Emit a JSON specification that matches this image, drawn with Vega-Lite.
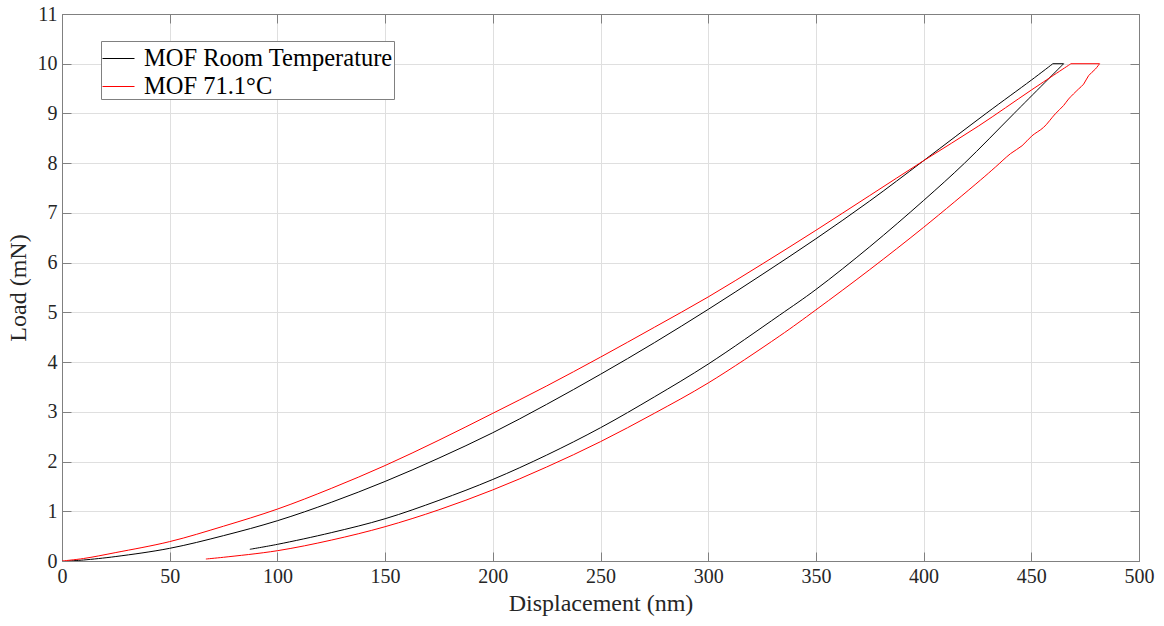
{
  "$schema": "https://vega.github.io/schema/vega-lite/v6.json",
  "autosize": "none",
  "width": 1077,
  "height": 547,
  "padding": {"left": 62, "top": 14, "right": 25, "bottom": 65},
  "background": "white",
  "config": {
    "view": {"stroke": "#808080", "strokeWidth": 1},
    "font": "Liberation Serif",
    "axis": {
      "labelFont": "Liberation Serif",
      "titleFont": "Liberation Serif",
      "labelFontSize": 20,
      "titleFontSize": 24,
      "titleFontWeight": "normal",
      "labelColor": "#262626",
      "titleColor": "#262626",
      "domainColor": "#808080",
      "tickColor": "#808080",
      "gridColor": "#dfdfdf",
      "tickSize": -9,
      "labelFlush": false
    }
  },
  "data": {
    "values": [
      {"s": "MOF Room Temperature", "g": "load", "i": 1, "x": 3, "y": 0},
      {"s": "MOF Room Temperature", "g": "load", "i": 2, "x": 10, "y": 0.02},
      {"s": "MOF Room Temperature", "g": "load", "i": 3, "x": 25, "y": 0.09},
      {"s": "MOF Room Temperature", "g": "load", "i": 4, "x": 50, "y": 0.255},
      {"s": "MOF Room Temperature", "g": "load", "i": 5, "x": 75, "y": 0.51},
      {"s": "MOF Room Temperature", "g": "load", "i": 6, "x": 100, "y": 0.81},
      {"s": "MOF Room Temperature", "g": "load", "i": 7, "x": 125, "y": 1.18},
      {"s": "MOF Room Temperature", "g": "load", "i": 8, "x": 150, "y": 1.6},
      {"s": "MOF Room Temperature", "g": "load", "i": 9, "x": 175, "y": 2.07},
      {"s": "MOF Room Temperature", "g": "load", "i": 10, "x": 200, "y": 2.58},
      {"s": "MOF Room Temperature", "g": "load", "i": 11, "x": 225, "y": 3.15},
      {"s": "MOF Room Temperature", "g": "load", "i": 12, "x": 250, "y": 3.755},
      {"s": "MOF Room Temperature", "g": "load", "i": 13, "x": 275, "y": 4.39},
      {"s": "MOF Room Temperature", "g": "load", "i": 14, "x": 300, "y": 5.06},
      {"s": "MOF Room Temperature", "g": "load", "i": 15, "x": 325, "y": 5.76},
      {"s": "MOF Room Temperature", "g": "load", "i": 16, "x": 350, "y": 6.48},
      {"s": "MOF Room Temperature", "g": "load", "i": 17, "x": 375, "y": 7.24},
      {"s": "MOF Room Temperature", "g": "load", "i": 18, "x": 400, "y": 8.05},
      {"s": "MOF Room Temperature", "g": "load", "i": 19, "x": 429, "y": 9.0},
      {"s": "MOF Room Temperature", "g": "load", "i": 20, "x": 450, "y": 9.67},
      {"s": "MOF Room Temperature", "g": "load", "i": 21, "x": 460, "y": 10},
      {"s": "MOF Room Temperature", "g": "top", "i": 22, "x": 460, "y": 10},
      {"s": "MOF Room Temperature", "g": "top", "i": 23, "x": 465, "y": 10},
      {"s": "MOF Room Temperature", "g": "unload", "i": 24, "x": 465, "y": 10},
      {"s": "MOF Room Temperature", "g": "unload", "i": 25, "x": 442, "y": 9},
      {"s": "MOF Room Temperature", "g": "unload", "i": 26, "x": 419, "y": 8},
      {"s": "MOF Room Temperature", "g": "unload", "i": 27, "x": 400, "y": 7.25},
      {"s": "MOF Room Temperature", "g": "unload", "i": 28, "x": 375, "y": 6.32},
      {"s": "MOF Room Temperature", "g": "unload", "i": 29, "x": 350, "y": 5.46},
      {"s": "MOF Room Temperature", "g": "unload", "i": 30, "x": 333, "y": 4.94},
      {"s": "MOF Room Temperature", "g": "unload", "i": 31, "x": 300, "y": 3.96},
      {"s": "MOF Room Temperature", "g": "unload", "i": 32, "x": 275, "y": 3.3},
      {"s": "MOF Room Temperature", "g": "unload", "i": 33, "x": 250, "y": 2.68},
      {"s": "MOF Room Temperature", "g": "unload", "i": 34, "x": 225, "y": 2.13},
      {"s": "MOF Room Temperature", "g": "unload", "i": 35, "x": 200, "y": 1.64},
      {"s": "MOF Room Temperature", "g": "unload", "i": 36, "x": 175, "y": 1.22},
      {"s": "MOF Room Temperature", "g": "unload", "i": 37, "x": 150, "y": 0.85},
      {"s": "MOF Room Temperature", "g": "unload", "i": 38, "x": 125, "y": 0.57},
      {"s": "MOF Room Temperature", "g": "unload", "i": 39, "x": 100, "y": 0.335},
      {"s": "MOF Room Temperature", "g": "unload", "i": 40, "x": 87.2, "y": 0.235},
      {"s": "MOF 71.1°C", "g": "load", "i": 1, "x": 0, "y": 0},
      {"s": "MOF 71.1°C", "g": "load", "i": 2, "x": 10, "y": 0.05},
      {"s": "MOF 71.1°C", "g": "load", "i": 3, "x": 25, "y": 0.17},
      {"s": "MOF 71.1°C", "g": "load", "i": 4, "x": 50, "y": 0.39},
      {"s": "MOF 71.1°C", "g": "load", "i": 5, "x": 75, "y": 0.7},
      {"s": "MOF 71.1°C", "g": "load", "i": 6, "x": 100, "y": 1.044},
      {"s": "MOF 71.1°C", "g": "load", "i": 7, "x": 125, "y": 1.46},
      {"s": "MOF 71.1°C", "g": "load", "i": 8, "x": 150, "y": 1.92},
      {"s": "MOF 71.1°C", "g": "load", "i": 9, "x": 175, "y": 2.43},
      {"s": "MOF 71.1°C", "g": "load", "i": 10, "x": 200, "y": 2.97},
      {"s": "MOF 71.1°C", "g": "load", "i": 11, "x": 225, "y": 3.52},
      {"s": "MOF 71.1°C", "g": "load", "i": 12, "x": 250, "y": 4.1},
      {"s": "MOF 71.1°C", "g": "load", "i": 13, "x": 275, "y": 4.7},
      {"s": "MOF 71.1°C", "g": "load", "i": 14, "x": 300, "y": 5.31},
      {"s": "MOF 71.1°C", "g": "load", "i": 15, "x": 325, "y": 5.97},
      {"s": "MOF 71.1°C", "g": "load", "i": 16, "x": 350, "y": 6.65},
      {"s": "MOF 71.1°C", "g": "load", "i": 17, "x": 375, "y": 7.35},
      {"s": "MOF 71.1°C", "g": "load", "i": 18, "x": 400, "y": 8.05},
      {"s": "MOF 71.1°C", "g": "load", "i": 19, "x": 425.6, "y": 8.75},
      {"s": "MOF 71.1°C", "g": "load", "i": 20, "x": 450, "y": 9.47},
      {"s": "MOF 71.1°C", "g": "load", "i": 21, "x": 468.4, "y": 10},
      {"s": "MOF 71.1°C", "g": "top", "i": 22, "x": 468.4, "y": 10},
      {"s": "MOF 71.1°C", "g": "top", "i": 23, "x": 481.7, "y": 10},
      {"s": "MOF 71.1°C", "g": "unload", "i": 24, "x": 481.7, "y": 10},
      {"s": "MOF 71.1°C", "g": "unload", "i": 25, "x": 479.7, "y": 9.89},
      {"s": "MOF 71.1°C", "g": "unload", "i": 26, "x": 476.6, "y": 9.76},
      {"s": "MOF 71.1°C", "g": "unload", "i": 27, "x": 474.3, "y": 9.59},
      {"s": "MOF 71.1°C", "g": "unload", "i": 28, "x": 471.9, "y": 9.49},
      {"s": "MOF 71.1°C", "g": "unload", "i": 29, "x": 467.3, "y": 9.29},
      {"s": "MOF 71.1°C", "g": "unload", "i": 30, "x": 465, "y": 9.16},
      {"s": "MOF 71.1°C", "g": "unload", "i": 31, "x": 461.1, "y": 8.99},
      {"s": "MOF 71.1°C", "g": "unload", "i": 32, "x": 455.7, "y": 8.72},
      {"s": "MOF 71.1°C", "g": "unload", "i": 33, "x": 450.3, "y": 8.55},
      {"s": "MOF 71.1°C", "g": "unload", "i": 34, "x": 445.7, "y": 8.35},
      {"s": "MOF 71.1°C", "g": "unload", "i": 35, "x": 440.3, "y": 8.19},
      {"s": "MOF 71.1°C", "g": "unload", "i": 36, "x": 433.3, "y": 7.92},
      {"s": "MOF 71.1°C", "g": "unload", "i": 37, "x": 426.4, "y": 7.66},
      {"s": "MOF 71.1°C", "g": "unload", "i": 38, "x": 400, "y": 6.71},
      {"s": "MOF 71.1°C", "g": "unload", "i": 39, "x": 375, "y": 5.86},
      {"s": "MOF 71.1°C", "g": "unload", "i": 40, "x": 350, "y": 5.05},
      {"s": "MOF 71.1°C", "g": "unload", "i": 41, "x": 333, "y": 4.52},
      {"s": "MOF 71.1°C", "g": "unload", "i": 42, "x": 300, "y": 3.58},
      {"s": "MOF 71.1°C", "g": "unload", "i": 43, "x": 275, "y": 2.97},
      {"s": "MOF 71.1°C", "g": "unload", "i": 44, "x": 250, "y": 2.4},
      {"s": "MOF 71.1°C", "g": "unload", "i": 45, "x": 225, "y": 1.89},
      {"s": "MOF 71.1°C", "g": "unload", "i": 46, "x": 200, "y": 1.43},
      {"s": "MOF 71.1°C", "g": "unload", "i": 47, "x": 175, "y": 1.03},
      {"s": "MOF 71.1°C", "g": "unload", "i": 48, "x": 150, "y": 0.69},
      {"s": "MOF 71.1°C", "g": "unload", "i": 49, "x": 125, "y": 0.42},
      {"s": "MOF 71.1°C", "g": "unload", "i": 50, "x": 100, "y": 0.207},
      {"s": "MOF 71.1°C", "g": "unload", "i": 51, "x": 75, "y": 0.075},
      {"s": "MOF 71.1°C", "g": "unload", "i": 52, "x": 66.8, "y": 0.04}
    ]
  },
  "layer": [
    {
      "mark": {"type": "line", "strokeWidth": 1, "clip": true, "interpolate": "catmull-rom"},
      "encoding": {
        "x": {
          "field": "x", "type": "quantitative",
          "scale": {"domain": [0, 500], "nice": false, "zero": false},
          "axis": {"values": [0,50,100,150,200,250,300,350,400,450,500], "title": "Displacement (nm)", "labelPadding": 14, "titlePadding": 5, "grid": true}
        },
        "y": {
          "field": "y", "type": "quantitative",
          "scale": {"domain": [0, 11], "nice": false, "zero": false},
          "axis": {"values": [0,1,2,3,4,5,6,7,8,9,10,11], "title": "Load (mN)", "labelPadding": 14, "titlePadding": 7, "grid": true}
        },
        "order": {"field": "i", "type": "quantitative"},
        "detail": {"field": "g", "type": "nominal"},
        "color": {
          "field": "s", "type": "nominal",
          "scale": {"domain": ["MOF Room Temperature", "MOF 71.1°C"], "range": ["#000000", "#ff0000"]},
          "legend": {
            "title": null,
            "orient": "none",
            "legendX": 39,
            "legendY": 27,
            "symbolType": "stroke",
            "symbolSize": 1024,
            "symbolStrokeWidth": 1,
            "labelFont": "Liberation Serif",
            "labelFontSize": 24.5,
            "labelLimit": 400,
            "labelColor": "#000000",
            "fillColor": "white",
            "strokeColor": "#808080",
            "padding": 1,
            "rowPadding": -3,
            "labelOffset": 9
          }
        }
      }
    },
    {
      "mark": {"type": "point", "opacity": 0},
      "encoding": {
        "x": {
          "field": "x", "type": "quantitative",
          "scale": {"domain": [0, 500], "nice": false, "zero": false},
          "axis": {"orient": "top", "values": [0,50,100,150,200,250,300,350,400,450,500], "labels": false, "title": null, "grid": false}
        },
        "y": {
          "field": "y", "type": "quantitative",
          "scale": {"domain": [0, 11], "nice": false, "zero": false},
          "axis": {"orient": "right", "values": [0,1,2,3,4,5,6,7,8,9,10,11], "labels": false, "title": null, "grid": false}
        }
      }
    }
  ],
  "resolve": {"axis": {"x": "independent", "y": "independent"}}
}
